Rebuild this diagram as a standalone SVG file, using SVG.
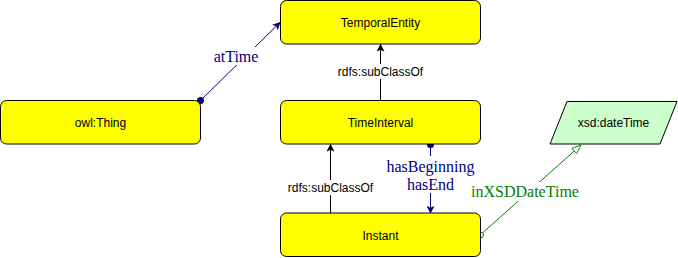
<svg xmlns="http://www.w3.org/2000/svg" width="678" height="258" viewBox="0 0 678 258">
<defs>
<style>
.node{fill:#FFFF00;stroke:#000;stroke-width:1}
.nt{font-family:"Liberation Sans",Arial,sans-serif;font-size:12px;fill:#000;text-anchor:middle;dominant-baseline:central}
.el{font-family:"Liberation Sans",Arial,sans-serif;font-size:12px;fill:#000;text-anchor:middle;dominant-baseline:central}
.pl{font-family:"Liberation Serif","Times New Roman",serif;font-size:16px;text-anchor:middle;dominant-baseline:central}
</style>
<marker id="arrB" viewBox="0 0 10 10" refX="9" refY="5" markerWidth="8" markerHeight="8" markerUnits="userSpaceOnUse" orient="auto"><path d="M0,0 L10,5 L0,10 L2.5,5 Z" fill="#000"/></marker>
<marker id="arrN" viewBox="0 0 10 10" refX="9" refY="5" markerWidth="8" markerHeight="8" markerUnits="userSpaceOnUse" orient="auto"><path d="M0,0 L10,5 L0,10 L2.5,5 Z" fill="#000080"/></marker>
<marker id="arrG" viewBox="0 0 12 10" refX="11" refY="5" markerWidth="11" markerHeight="9" markerUnits="userSpaceOnUse" orient="auto"><path d="M1,1 L11,5 L1,9 Z" fill="#fff" stroke="#008000" stroke-width="1"/></marker>
</defs>
<rect width="678" height="258" fill="#fff"/>
<g id="connectors">
<g id="e-atTime">
<line x1="200.5" y1="100.5" x2="280" y2="22.5" stroke="#000080" stroke-width="1" marker-end="url(#arrN)"/>
<circle cx="200.5" cy="100.5" r="3.5" fill="#000080"/>
<rect x="212" y="47" width="48" height="18" fill="#fff"/>
<text class="pl" x="236" y="56" fill="#000080">atTime</text>
</g>
<g id="e-sub1">
<line x1="380.5" y1="100" x2="380.5" y2="44.5" stroke="#000" marker-end="url(#arrB)"/>
<rect x="336" y="64" width="89" height="15" fill="#fff"/>
<text class="el" x="380.5" y="71.5">rdfs:subClassOf</text>
</g>
<g id="e-sub2">
<line x1="330.5" y1="213" x2="330.5" y2="144.5" stroke="#000" marker-end="url(#arrB)"/>
<rect x="286" y="180" width="89" height="15" fill="#fff"/>
<text class="el" x="330.5" y="187.5">rdfs:subClassOf</text>
</g>
<g id="e-hasBeginning">
<line x1="430.5" y1="144.5" x2="430.5" y2="213" stroke="#000080" marker-end="url(#arrN)"/>
<circle cx="430.5" cy="144.5" r="3.5" fill="#000080"/>
<rect x="386" y="156" width="89" height="37" fill="#fff"/>
<text class="pl" x="430.5" y="166" fill="#000080">hasBeginning</text>
<text class="pl" x="430.5" y="184" fill="#000080">hasEnd</text>
</g>
<g id="e-inXSD">
<line x1="483" y1="232.5" x2="581" y2="145" stroke="#008000" marker-end="url(#arrG)"/>
<circle cx="480.5" cy="235" r="3" fill="#fff" stroke="#008000"/>
<rect x="473" y="182" width="104" height="19" fill="#fff"/>
<text class="pl" x="525" y="191.5" fill="#008000">inXSDDateTime</text>
</g>
</g>
<g id="n-TemporalEntity">
<rect class="node" x="280.5" y="0.5" width="200" height="43.5" rx="6"/>
<text class="nt" x="380.5" y="23">TemporalEntity</text>
</g>
<g id="n-owlThing">
<rect class="node" x="0.5" y="100.5" width="200" height="43.5" rx="6"/>
<text class="nt" x="100.5" y="123">owl:Thing</text>
</g>
<g id="n-TimeInterval">
<rect class="node" x="280.5" y="100.5" width="200" height="43.5" rx="6"/>
<text class="nt" x="380.5" y="123">TimeInterval</text>
</g>
<g id="n-Instant">
<rect class="node" x="280.5" y="213" width="200" height="43.5" rx="6"/>
<text class="nt" x="380.5" y="235.5">Instant</text>
</g>
<g id="n-dateTime">
<polygon points="567,101.5 677,101.5 660,144 550,144" fill="#CCFFCC" stroke="#000"/>
<text class="nt" x="613.5" y="123">xsd:dateTime</text>
</g>
</svg>
